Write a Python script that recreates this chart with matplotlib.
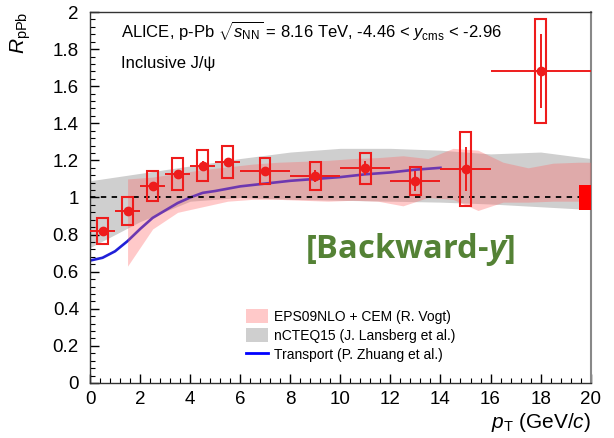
import numpy as np
import matplotlib
matplotlib.use('Agg')
import matplotlib.pyplot as plt
from matplotlib.patches import Patch
from matplotlib.lines import Line2D
from matplotlib.ticker import MultipleLocator

plt.rcParams['font.family'] = ['Liberation Sans', 'DejaVu Sans']
plt.rcParams['mathtext.fontset'] = 'custom'
plt.rcParams['mathtext.rm'] = 'Liberation Sans'
plt.rcParams['mathtext.it'] = 'Liberation Sans:italic'
plt.rcParams['mathtext.bfit'] = 'Open Sans:italic:bold'

# ALICE data points (inclusive J/psi, backward rapidity)
pt = [0.5, 1.5, 2.5, 3.5, 4.5, 5.5, 7, 9, 11, 13, 15, 18]
pt_err = [0.5, 0.5, 0.5, 0.5, 0.5, 0.5, 1, 1, 1, 1, 1, 2]
rppb = [0.82, 0.925, 1.063, 1.127, 1.172, 1.19, 1.142, 1.116, 1.158, 1.089, 1.154, 1.683]
stat = [0.02, 0.02, 0.02, 0.02, 0.025, 0.025, 0.025, 0.03, 0.038, 0.056, 0.12, 0.2]
syst = [0.07, 0.075, 0.081, 0.085, 0.085, 0.085, 0.071, 0.074, 0.084, 0.078, 0.2, 0.28]
glob_unc = 0.07

# EPS09NLO + CEM (R. Vogt)
eps_pt = [1.5, 2.5, 3.5, 4.5, 5.5, 6.5, 7.5, 8.5, 9.5, 10.5, 11.5, 12.5, 13.5,
          14.5, 15.5, 16.5, 17.5, 18.5, 19.5, 20]
eps_hi = [1.10, 1.11, 1.13, 1.15, 1.165, 1.18, 1.19, 1.195, 1.20, 1.21, 1.215,
          1.225, 1.21, 1.265, 1.255, 1.19, 1.16, 1.185, 1.19, 1.19]
eps_lo = [0.63, 0.83, 0.92, 0.95, 0.98, 0.99, 0.99, 0.985, 0.98, 0.985, 0.98,
          0.955, 1.0, 0.99, 0.93, 0.975, 0.975, 0.98, 0.98, 0.98]

# nCTEQ15 (J. Lansberg et al.)
ncteq_pt = [0, 2, 4, 6, 8, 10, 12, 14, 16, 18, 20]
ncteq_hi = [1.09, 1.13, 1.17, 1.21, 1.245, 1.265, 1.265, 1.255, 1.235, 1.245, 1.21]
ncteq_lo = [0.73, 0.87, 0.98, 1.0, 0.99, 0.985, 0.98, 0.975, 0.965, 0.95, 0.935]

# Transport (P. Zhuang et al.)
tr_pt = [0, 0.5, 1, 1.5, 2, 2.5, 3, 3.5, 4, 4.5, 5, 6, 7, 8, 9, 10, 11, 12, 13, 14]
tr_r = [0.66, 0.675, 0.71, 0.765, 0.83, 0.89, 0.93, 0.97, 1.0, 1.025, 1.035,
        1.06, 1.075, 1.09, 1.10, 1.11, 1.125, 1.135, 1.15, 1.16]

red = '#ee1c1c'
pink = '#ff6666'
grey = '#cfcfcf'

fig = plt.figure(figsize=(6.14, 4.38), dpi=100)
ax = fig.add_axes([0.1466, 0.1256, 0.8154, 0.847])

ax.fill_between(ncteq_pt, ncteq_lo, ncteq_hi, color=grey, lw=0, zorder=1)
ax.plot(tr_pt, tr_r, color='#2020d8', lw=1.9, zorder=2)
ax.fill_between(eps_pt, eps_lo, eps_hi, color=pink, alpha=0.35, lw=0, zorder=3)
ax.axhline(1, color='black', ls=(0, (3, 3)), lw=1.3, zorder=4)

# systematic boxes
lo = np.array(rppb) - np.array(syst)
ax.bar(pt, 2 * np.array(syst), bottom=lo, width=0.42, fill=False,
       edgecolor=red, lw=1.5, zorder=5)
ax.errorbar(pt, rppb, xerr=pt_err, yerr=stat, fmt='o', color=red, ms=6,
            elinewidth=1.4, capsize=0, zorder=6)
# global uncertainty
ax.bar([19.55], [2 * glob_unc], bottom=1 - glob_unc, width=0.45, align='edge',
       color='red', lw=0, zorder=6, clip_on=False)

ax.set_xlim(0, 20)
ax.set_ylim(0, 2)
ax.xaxis.set_major_locator(MultipleLocator(2))
ax.xaxis.set_minor_locator(MultipleLocator(0.4))
ax.yaxis.set_major_locator(MultipleLocator(0.2))
ax.yaxis.set_minor_locator(MultipleLocator(0.04))
ax.set_yticks(np.arange(0, 2.01, 0.2))
ax.set_yticklabels(['0', '0.2', '0.4', '0.6', '0.8', '1', '1.2', '1.4', '1.6', '1.8', '2'])
ax.tick_params(which='both', direction='in', labelsize=13.5, top=False, right=False)
ax.tick_params(which='major', length=6.5, width=1)
ax.tick_params(which='minor', length=3.5, width=0.8)
ax.tick_params(axis='y', pad=8)
ax.tick_params(axis='x', pad=6)
for s in ax.spines.values():
    s.set_color('#333333')
    s.set_linewidth(1)
ax.spines['right'].set_color('#888888')
ax.spines['right'].set_linewidth(1.5)

ax.set_ylabel(r'$R_{\rm pPb}$', fontsize=15, loc='top', labelpad=14)
ax.set_xlabel(r'$p_{\rm T}$ (GeV/$c$)', fontsize=15, loc='right', labelpad=2)

ax.text(0.062, 0.948, r'ALICE, p-Pb $\sqrt{s_{\rm NN}}$ = 8.16 TeV, -4.46 < $y_{\rm cms}$ < -2.96',
        transform=ax.transAxes, fontsize=12, va='center')
ax.text(0.062, 0.86, 'Inclusive J/ψ', transform=ax.transAxes, fontsize=12, va='center')

ax.text(0.64, 0.36, r'[Backward-$\mathbfit{y}$]', transform=ax.transAxes, fontsize=23.5,
        family='Open Sans', weight='bold', color='#548235', ha='center', va='center')

handles = [Patch(facecolor=pink, alpha=0.35, edgecolor='none'),
           Patch(facecolor=grey, edgecolor='none'),
           Line2D([], [], color='#0000ff', lw=2)]
labels = ['EPS09NLO + CEM (R. Vogt)', 'nCTEQ15 (J. Lansberg et al.)',
          'Transport (P. Zhuang et al.)']
fig.legend(handles, labels, loc='upper left', bbox_to_anchor=(246 / 614, 1 - 309 / 438),
           frameon=False, fontsize=10, handlelength=1.6, handleheight=1.2,
           handletextpad=0.4, labelspacing=0.3, borderpad=0, borderaxespad=0)

fig.savefig('out.png', dpi=100)
